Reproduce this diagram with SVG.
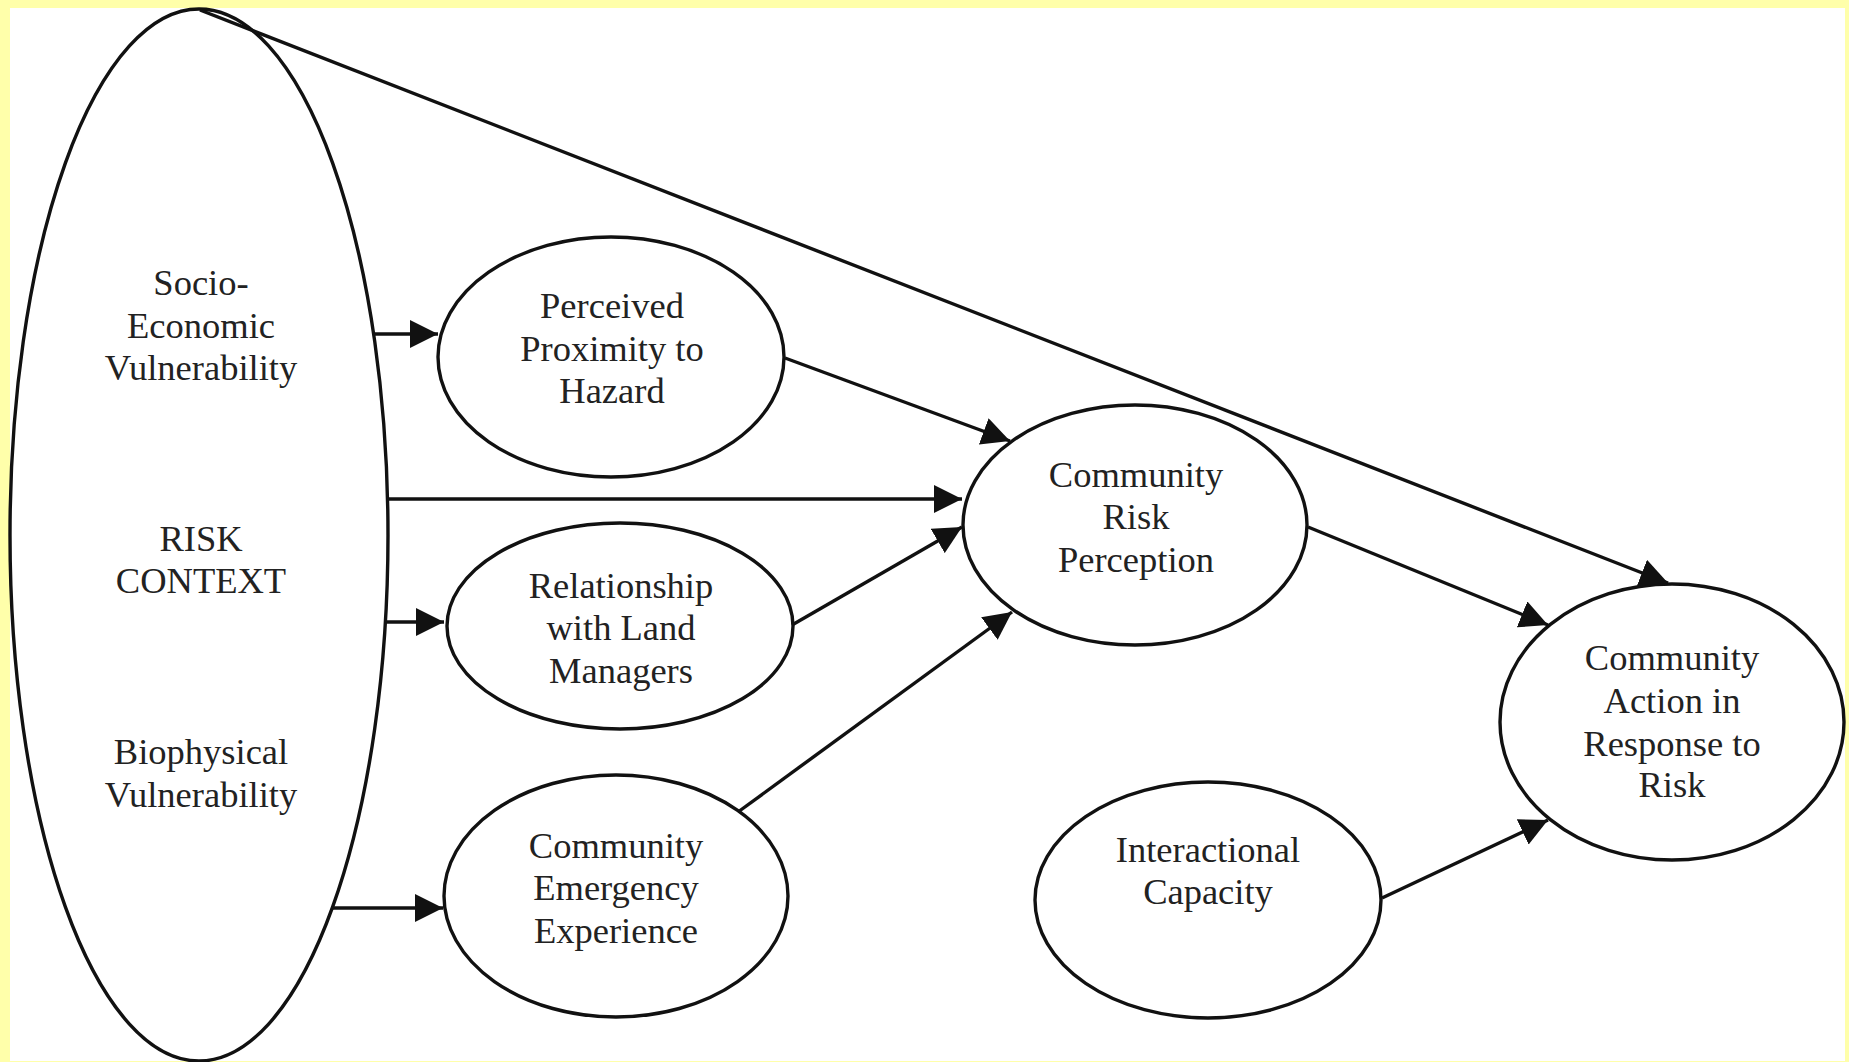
<svg xmlns="http://www.w3.org/2000/svg" width="1849" height="1062" viewBox="0 0 1849 1062">
<style>
.node{fill:#fff;stroke:#111;stroke-width:3.4}
.lbl{font-family:"Liberation Serif","Times New Roman",serif;font-size:36.5px;fill:#222;text-anchor:middle}
.edge{stroke:#111;stroke-width:3.4;fill:none;marker-end:url(#ah)}
</style>
<defs>
<marker id="ah" markerUnits="userSpaceOnUse" markerWidth="28" markerHeight="28" refX="28" refY="14" orient="auto" viewBox="0 0 28 28">
<path d="M0,0 L28,14 L0,28 Z" fill="#111"/>
</marker>
</defs>
<rect x="0" y="0" width="1849" height="1062" fill="#FFFFAA"/>
<rect x="10" y="8" width="1835" height="1053" fill="#FFFFFF"/>
<g id="risk-context">
<ellipse class="node" cx="199" cy="535" rx="189" ry="526"/>
<text class="lbl" x="201" y="295">Socio-</text>
<text class="lbl" x="201" y="338">Economic</text>
<text class="lbl" x="201" y="380">Vulnerability</text>
<text class="lbl" x="201" y="551">RISK</text>
<text class="lbl" x="201" y="593">CONTEXT</text>
<text class="lbl" x="201" y="764">Biophysical</text>
<text class="lbl" x="201" y="807">Vulnerability</text>
</g>
<g id="perceived-proximity">
<ellipse class="node" cx="611" cy="357" rx="173" ry="120"/>
<text class="lbl" x="612" y="318">Perceived</text>
<text class="lbl" x="612" y="361">Proximity to</text>
<text class="lbl" x="612" y="403">Hazard</text>
</g>
<g id="relationship">
<ellipse class="node" cx="620" cy="626" rx="173" ry="103"/>
<text class="lbl" x="621" y="598">Relationship</text>
<text class="lbl" x="621" y="640">with Land</text>
<text class="lbl" x="621" y="683">Managers</text>
</g>
<g id="emergency-experience">
<ellipse class="node" cx="616" cy="896" rx="172" ry="121"/>
<text class="lbl" x="616" y="858">Community</text>
<text class="lbl" x="616" y="900">Emergency</text>
<text class="lbl" x="616" y="943">Experience</text>
</g>
<g id="risk-perception">
<ellipse class="node" cx="1135" cy="525" rx="172" ry="120"/>
<text class="lbl" x="1136" y="487">Community</text>
<text class="lbl" x="1136" y="529">Risk</text>
<text class="lbl" x="1136" y="572">Perception</text>
</g>
<g id="interactional-capacity">
<ellipse class="node" cx="1208" cy="900" rx="173" ry="118"/>
<text class="lbl" x="1208" y="862">Interactional</text>
<text class="lbl" x="1208" y="904">Capacity</text>
</g>
<g id="community-action">
<ellipse class="node" cx="1672" cy="722" rx="172" ry="138"/>
<text class="lbl" x="1672" y="670">Community</text>
<text class="lbl" x="1672" y="713">Action in</text>
<text class="lbl" x="1672" y="756">Response to</text>
<text class="lbl" x="1672" y="797">Risk</text>
</g>
<g id="connectors">
<line class="edge" x1="375" y1="334" x2="438" y2="334"/>
<line class="edge" x1="388" y1="499" x2="962" y2="499"/>
<line class="edge" x1="387" y1="622" x2="444" y2="622"/>
<line class="edge" x1="333" y1="908" x2="443" y2="908"/>
<line class="edge" x1="785" y1="358" x2="1010" y2="441"/>
<line class="edge" x1="792" y1="625" x2="962" y2="527"/>
<line class="edge" x1="738" y1="812" x2="1012" y2="612"/>
<line class="edge" x1="1308" y1="527" x2="1548" y2="625"/>
<line class="edge" x1="200" y1="10" x2="1668" y2="583"/>
<line class="edge" x1="1382" y1="898" x2="1548" y2="820"/>
</g>
</svg>
